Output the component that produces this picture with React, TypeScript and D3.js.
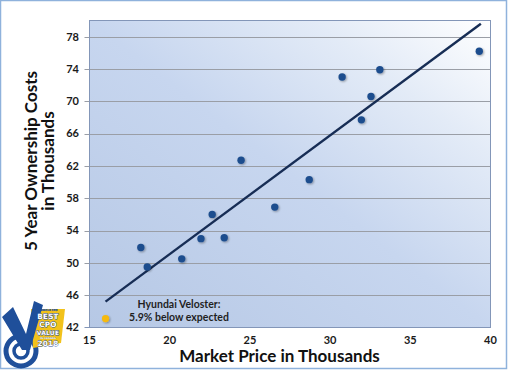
import React from "react";
import * as d3 from "d3";

// market price (thousands) vs 5-year ownership cost (thousands)
const priceValues = [18.2, 18.6, 20.75, 21.95, 22.65, 23.4, 24.45, 26.55, 28.7, 30.75, 31.95, 32.55, 33.1, 39.3];
const costValues = [51.9, 49.5, 50.5, 53.0, 56.0, 53.1, 62.7, 56.9, 60.3, 73.0, 67.7, 70.6, 73.9, 76.2];

const highlightPrice = [16.0];
const highlightCost = [43.1];

const trendPrice = [16.0, 39.4];
const trendCost = [45.2, 79.6];

const xTicks = [15, 20, 25, 30, 35, 40];
const yTicks = [42, 46, 50, 54, 58, 62, 66, 70, 74, 78];

const annotationLines = ["Hyundai Veloster:", "5.9% below expected"];
const logoWords = ["VEHICLE CPO", "BEST", "CPO", "VALUE", "IN CANADA", "2018"];

const W = 510;
const H = 370;
const plot = { left: 89.5, right: 490.5, top: 20.5, bottom: 327.5 };

const font = "Lato, 'Open Sans', sans-serif";

const Logo = () => {
  const blue = "#1f4f9a";
  const fs = [2.6, 7.2, 7.2, 6, 2.5, 7.2];
  // stack the words so their line boxes touch but don't overlap
  let top = 309;
  const ys = fs.map((s) => {
    const base = top + s * 0.93;
    top += s * 1.17 + 0.1;
    return base;
  });
  return (
    <g>
      {/* target rings */}
      <circle cx={21} cy={351} r={15} fill="none" stroke={blue} strokeWidth={5} />
      <circle cx={21} cy={351} r={7} fill="none" stroke={blue} strokeWidth={3.5} />
      {/* yellow banner */}
      <polygon points="31,309 65,309 61,343 33,348" fill="#f2c21b" />
      {/* V mark */}
      <polygon points="2,317 13,307 26,334 34,301 43,305 30,350 22,350" fill={blue} />
      {logoWords.map((w, i) => (
        <text key={w} x={48} y={ys[i]} fontSize={fs[i]} fontWeight={900}
          fill={i === 0 ? blue : "#fff"}
          stroke={blue} strokeWidth={i === 0 || i === 4 ? 0.2 : 0.8} paintOrder="stroke"
          textAnchor="middle" fontFamily="'DejaVu Sans', sans-serif"
          letterSpacing={i === 0 || i === 4 ? 0 : 0.2}>{w}</text>
      ))}
    </g>
  );
};

export default function App() {
  const x = d3.scaleLinear().domain([15, 40]).range([plot.left, plot.right]);
  const y = d3.scaleLinear().domain([42, 80]).range([plot.bottom, plot.top]);

  const points = priceValues.map((p, i) => ({ p, c: costValues[i] }));
  const trend = d3.line<number>()
    .x((d) => x(d))
    .y((_, i) => y(trendCost[i]));

  return (
    <svg width={W} height={H} style={{ position: "absolute", left: 0, top: 0, background: "#fff" }}>
      <defs>
        <linearGradient id="bg" x1="0" y1="1" x2="1" y2="0">
          <stop offset="0" stopColor="#b6c8e5" />
          <stop offset="0.5" stopColor="#c7d6ef" />
          <stop offset="0.78" stopColor="#e3ebf7" />
          <stop offset="1" stopColor="#ffffff" />
        </linearGradient>
        <filter id="sh" x="-50%" y="-50%" width="200%" height="200%">
          <feGaussianBlur in="SourceAlpha" stdDeviation="0.8" />
          <feOffset dx="0.8" dy="0.8" />
          <feComponentTransfer><feFuncA type="linear" slope="0.35" /></feComponentTransfer>
          <feMerge><feMergeNode /><feMergeNode in="SourceGraphic" /></feMerge>
        </filter>
      </defs>

      {/* outer frame */}
      <rect x={0.5} y={0.5} width={506} height={368} fill="#fff" stroke="#8fb2dc" strokeWidth={1.5} />

      {/* plot area */}
      <rect x={plot.left} y={plot.top} width={plot.right - plot.left} height={plot.bottom - plot.top} fill="url(#bg)" />

      {yTicks.filter((t) => t > 42).map((t) => (
        <line key={t} x1={plot.left - 5} x2={plot.right} y1={Math.round(y(t)) + 0.5} y2={Math.round(y(t)) + 0.5}
          stroke="#9a9ea6" strokeWidth={1} />
      ))}
      <rect x={plot.left} y={plot.top} width={plot.right - plot.left} height={plot.bottom - plot.top}
        fill="none" stroke="#8396b8" strokeWidth={1} />
      <line x1={plot.left - 5} x2={plot.left} y1={plot.bottom} y2={plot.bottom} stroke="#8396b8" />

      {yTicks.map((t) => (
        <text key={t} x={79} y={y(t)} dy="0.35em" textAnchor="end" fontSize={11} fontWeight={700}
          fill="#1a1a1a" fontFamily={font}>{t}</text>
      ))}
      {xTicks.map((t) => (
        <text key={t} x={x(t)} y={344} textAnchor="middle" fontSize={11} fontWeight={700}
          fill="#1a1a1a" fontFamily={font}>{t}</text>
      ))}

      {/* trendline */}
      <path d={trend(trendPrice) ?? ""} fill="none" stroke="#172d55" strokeWidth={2.4} />

      {points.map((d, i) => (
        <circle key={i} cx={x(d.p)} cy={y(d.c)} r={3.7} fill="#1f4e8e" filter="url(#sh)" />
      ))}
      {highlightPrice.map((p, i) => (
        <circle key={i} cx={x(p)} cy={y(highlightCost[i])} r={3.6} fill="#f6b90a" filter="url(#sh)" />
      ))}

      {annotationLines.map((l, i) => (
        <text key={l} x={179} y={308 + i * 12.8} textAnchor="middle" fontSize={10.5} fontWeight={700}
          fill="#1f1f1f" fontFamily={font}>{l}</text>
      ))}

      {/* axis titles */}
      <text x={279.5} y={362} textAnchor="middle" fontSize={17} fontWeight={700} fill="#111"
        fontFamily={font}>Market Price in Thousands</text>
      <g transform="translate(0,161) rotate(-90)">
        <text x={0} y={37} textAnchor="middle" fontSize={17} fontWeight={700} fill="#111"
          fontFamily={font}>5 Year Ownership Costs</text>
        <text x={0} y={54} textAnchor="middle" fontSize={17} fontWeight={700} fill="#111"
          fontFamily={font}>in Thousands</text>
      </g>

      <Logo />
    </svg>
  );
}
